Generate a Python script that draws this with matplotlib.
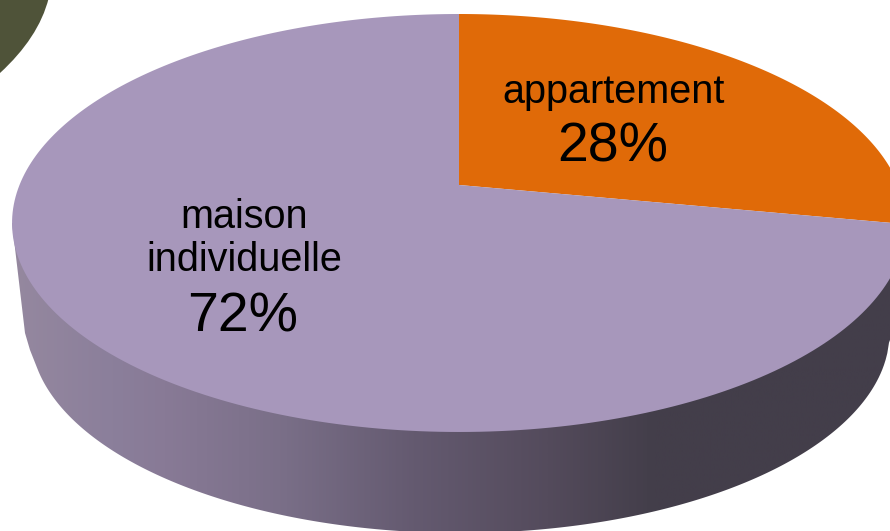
import numpy as np
import matplotlib
matplotlib.use("Agg")
import matplotlib.pyplot as plt
from matplotlib.patches import PathPatch, Polygon
from matplotlib.path import Path
from matplotlib.colors import LinearSegmentedColormap

categories = ["appartement", "maison\nindividuelle"]
shares = [28, 72]
pct_labels = ["28%", "72%"]
colors = ["#e06a08", "#a797bb"]

plt.rcParams['font.family'] = ['Liberation Sans', 'DejaVu Sans']
fig = plt.figure(figsize=(8.9, 5.31), dpi=100)
ax = fig.add_axes([0, 0, 1, 1])
ax.set_xlim(0, 890)
ax.set_ylim(531, 0)
ax.axis('off')

# Perspective projection of the unit disc onto the tilted pie top
W, CX, AX, CY, DY = 0.1818, 459.0, 439.5, 185.0, -168.45


def project(x, y):
    den = 1 + W * y
    return CX + AX * x / den, (CY + DY * y) / den


def sector(start, stop):
    t = np.linspace(start, stop, 240) * 2 * np.pi / sum(shares)
    px, py = project(np.sin(t), np.cos(t))
    return np.column_stack([px, py])


# dark olive shape in the corner
olive = Path([(48.7, -2), (42, 25), (25, 50), (0, 73), (-3, 73), (-3, -2), (48.7, -2)],
             [Path.MOVETO, Path.CURVE4, Path.CURVE4, Path.CURVE4,
              Path.LINETO, Path.LINETO, Path.CLOSEPOLY])
ax.add_patch(PathPatch(olive, fc="#4f5339", ec="none", zorder=1))

# side wall: lower half of top rim + lower rim
tt = np.linspace(0, 2 * np.pi, 721)
rim_x, rim_y = project(np.sin(tt), np.cos(tt))
bx = np.linspace(37, 889, 500)
by = 333 + 200 * np.sqrt(np.clip(1 - ((bx - 460) / 429.5) ** 2, 0, 1))
left = np.argmin(rim_x)
right = np.argmax(rim_x)
wall = np.vstack([[rim_x[left], rim_y[left]], [25, 333], [30, 350],
                  np.column_stack([bx, by]),
                  [905, 300], [rim_x[right], rim_y[right]]])
wall_patch = Polygon(wall, closed=True, fc="none", ec="none", zorder=2)
ax.add_patch(wall_patch)
stops = [(0.0, "#95889f"), (0.11, "#8b7f9b"), (0.17, "#887a96"), (0.30, "#7a6f88"),
         (0.45, "#645a70"), (0.60, "#544b5c"), (0.72, "#433e4a"), (1.0, "#433e4a")]
cmap = LinearSegmentedColormap.from_list("wall", stops)
im = ax.imshow(np.linspace(0, 1, 512)[None, :], cmap=cmap, aspect='auto',
               extent=(12, 905, 540, 200), zorder=2, vmin=0, vmax=1)
im.set_clip_path(wall_patch)
ax.set_xlim(0, 890)
ax.set_ylim(531, 0)

# pie top
start = 0
apex = project(0.0, 0.0)
for val, col in zip(shares, colors):
    pts = np.vstack([apex, sector(start, start + val)])
    ax.add_patch(Polygon(pts, closed=True, fc=col, ec="none", zorder=3))
    start += val

# labels
ax.text(614, 92, categories[0], ha='center', va='center', fontsize=28.5, color='black', zorder=4)
ax.text(613, 148, pct_labels[0], ha='center', va='center', fontsize=40, color='black', zorder=4)
ax.text(244, 238.5, categories[1], ha='center', va='center', fontsize=28.5, color='black',
        linespacing=1.16, zorder=4)
ax.text(243, 317, pct_labels[1], ha='center', va='center', fontsize=40, color='black', zorder=4)

fig.savefig("out.png", dpi=100, facecolor="white")
